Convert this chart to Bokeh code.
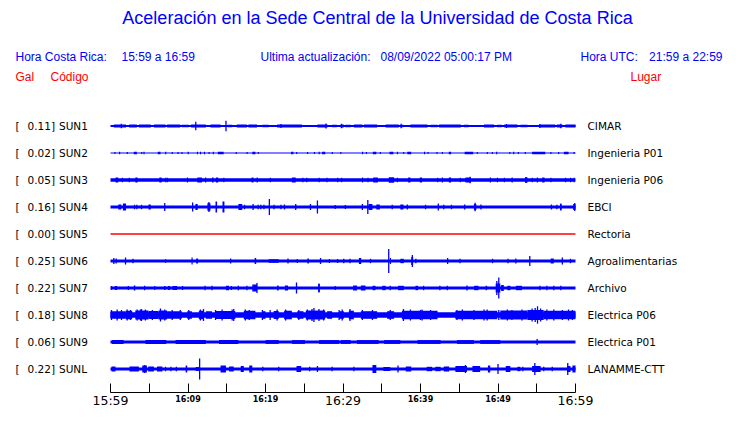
from bokeh.plotting import figure
from bokeh.models import Range1d, LinearAxis, FixedTicker, ColumnDataSource
from bokeh.core.properties import value
from bokeh.embed import file_html
from bokeh.resources import INLINE

# ------------------------------------------------------------------ data
title_text = "Aceleración en la Sede Central de la Universidad de Costa Rica"
hdr_cr_label, hdr_cr_value = "Hora Costa Rica:", "15:59 a 16:59"
hdr_upd_label, hdr_upd_value = "Ultima actualización:", "08/09/2022 05:00:17 PM"
hdr_utc_label, hdr_utc_value = "Hora UTC:", "21:59 a 22:59"
col_gal, col_code, col_place = "Gal", "Código", "Lugar"

codes = ["SUN1", "SUN2", "SUN3", "SUN4", "SUN5", "SUN6", "SUN7", "SUN8", "SUN9", "SUNL"]
gal_max = [0.11, 0.02, 0.05, 0.16, 0.00, 0.25, 0.22, 0.18, 0.06, 0.22]
places = ["CIMAR", "Ingenieria P01", "Ingenieria P06", "EBCI", "Rectoria",
          "Agroalimentarias", "Archivo", "Electrica P06", "Electrica P01", "LANAMME-CTT"]

# minutes after 15:59
tick_minutes = [0, 5, 10, 15, 20, 25, 30, 35, 40, 45, 50, 55, 60]
tick_labels = ["15:59", "", "16:09", "", "16:19", "", "16:29", "", "16:39", "", "16:49", "", "16:59"]
tick_big = ["15:59", "16:29", "16:59"]

# background (noise) half-amplitude of each trace, relative units
base_amp = [0.9, 0.5, 1.7, 1.5, 0.0, 1.5, 1.5, 2.7, 1.6, 1.5]

# bursts: (start minute, end minute, half-amplitude); spikes: (minute, half-amplitude)
sun1_bursts = [(0.43, 2.0, 1.4), (2.4, 3.4, 1.4), (3.66, 5.2, 1.4), (5.6, 7.1, 1.4), (7.3, 9.0, 1.4),
               (9.2, 10.1, 1.3), (10.4, 12.3, 1.5), (12.9, 14.2, 1.4), (15.1, 15.7, 1.3), (16.3, 17.6, 1.4),
               (17.8, 18.9, 1.4), (19.6, 20.4, 1.3), (21.5, 24.7, 1.5), (26.7, 28.0, 1.5), (28.6, 29.2, 1.3),
               (29.7, 30.1, 1.4), (30.3, 31.0, 1.3), (31.4, 32.5, 1.4), (32.7, 34.4, 1.4), (35.5, 37.2, 1.4),
               (37.4, 37.8, 1.3), (38.7, 40.9, 1.4), (41.3, 42.2, 1.3), (42.4, 45.2, 1.4), (45.6, 46.2, 1.3),
               (48.2, 49.5, 1.4), (49.9, 50.5, 1.3), (50.8, 52.5, 1.4), (52.9, 53.8, 1.3), (55.3, 57.4, 1.5),
               (57.6, 58.3, 1.4), (58.7, 60.0, 1.5)]
sun1_spikes = [(1.4, 2.2), (11.0, 4.2), (14.9, 5.3), (22.0, 2.0), (27.8, 2.5), (29.8, 2.3), (37.5, 2.3),
               (51.1, 2.0), (55.4, 2.0), (58.1, 2.3)]

sun2_bursts = [(0.5, 0.65, 1.0), (1.1, 1.25, 1.2), (2.1, 2.25, 1.0), (3.0, 3.4, 1.3), (3.95, 4.1, 1.0),
               (4.25, 4.4, 1.2), (6.1, 6.45, 1.2), (7.05, 7.2, 1.2), (7.9, 8.05, 1.0), (8.65, 8.8, 1.0),
               (9.15, 9.3, 1.0), (9.95, 10.1, 1.2), (11.15, 11.3, 1.2), (11.55, 11.7, 1.2), (12.05, 12.2, 1.2),
               (12.65, 12.8, 1.0), (13.2, 13.35, 1.2), (13.85, 14.6, 1.3), (16.15, 16.3, 1.0), (17.55, 17.7, 1.0),
               (18.3, 18.7, 1.3), (19.0, 19.15, 1.0), (23.3, 23.6, 1.3), (23.95, 24.1, 1.0), (25.35, 25.5, 1.0),
               (26.25, 26.4, 1.0), (26.85, 27.0, 1.2), (27.3, 27.7, 1.2), (28.55, 28.7, 1.0), (29.65, 29.8, 1.0),
               (32.45, 32.6, 1.2), (32.95, 33.1, 1.0), (33.85, 34.3, 1.3), (34.75, 34.9, 1.0), (36.0, 36.5, 1.2),
               (36.95, 37.1, 1.2), (37.75, 37.9, 1.0), (38.3, 38.8, 1.2), (40.45, 40.6, 1.2), (40.9, 41.05, 1.0),
               (42.05, 42.2, 1.0), (42.75, 42.9, 1.0), (43.65, 43.95, 1.2), (45.7, 46.8, 1.3), (47.25, 47.4, 1.0),
               (48.55, 48.7, 1.0), (49.2, 49.35, 1.0), (49.75, 49.9, 1.2), (51.45, 51.6, 1.0), (51.95, 52.1, 1.2),
               (52.55, 52.7, 1.0), (53.45, 53.6, 1.0), (54.4, 56.1, 1.3), (56.75, 56.9, 1.0), (57.75, 57.9, 1.0),
               (58.5, 59.1, 1.2), (59.75, 59.9, 1.0)]
sun2_spikes = []

sun3_bursts = [(0.65, 1.0, 2.6), (1.45, 1.6, 2.2), (2.35, 2.5, 2.2), (3.2, 3.5, 2.6), (6.3, 6.6, 2.6),
               (7.05, 7.2, 2.2), (7.25, 7.4, 2.2), (9.85, 10.0, 2.4), (11.2, 11.8, 2.6), (12.2, 12.35, 2.4),
               (13.1, 13.3, 2.4), (13.6, 13.9, 2.6), (14.55, 14.7, 2.2), (18.2, 18.45, 2.6), (18.85, 19.0, 2.4),
               (20.55, 20.7, 2.2), (23.4, 23.9, 2.4), (24.75, 24.9, 2.2), (25.25, 25.4, 2.2), (26.85, 27.0, 2.2),
               (27.85, 28.0, 2.2), (29.25, 29.4, 2.2), (29.75, 29.9, 2.2), (32.45, 32.6, 2.4), (33.15, 33.3, 2.2),
               (33.9, 34.5, 2.6), (35.9, 36.6, 2.8), (36.95, 37.1, 2.2), (38.4, 38.7, 2.4), (39.9, 40.2, 2.4),
               (42.15, 42.3, 2.2), (42.75, 42.9, 2.4), (43.65, 43.95, 2.4), (45.05, 45.2, 2.2), (45.8, 46.5, 2.4),
               (48.95, 49.1, 2.4), (49.85, 50.0, 2.2), (50.75, 50.9, 2.2), (51.75, 51.9, 2.4), (53.5, 53.8, 2.8),
               (54.35, 54.5, 2.2), (55.0, 55.15, 2.4), (55.7, 56.0, 2.6), (56.75, 56.9, 2.2), (58.65, 58.8, 2.2),
               (59.3, 59.45, 2.2), (59.75, 59.9, 2.2)]
sun3_spikes = [(46.4, 3.2), (53.6, 3.0)]

sun4_bursts = [(1.0, 1.4, 2.5), (1.6, 2.0, 3.5), (4.9, 5.2, 2.5), (10.95, 11.25, 3.0), (12.5, 12.9, 3.8),
               (13.55, 13.75, 5.5), (14.45, 14.7, 5.5), (16.5, 17.0, 3.0), (33.3, 33.8, 3.0), (34.3, 34.75, 2.5),
               (37.4, 37.8, 2.5), (46.9, 47.2, 3.0), (58.0, 58.2, 3.0), (59.7, 60.0, 3.0)]
sun4_spikes = [(3.1, 2.2), (3.4, 2.2), (4.0, 2.2), (7.0, 4.0), (10.6, 4.5), (12.7, 5.0), (17.3, 2.2),
               (18.4, 3.0), (19.05, 2.2), (19.4, 2.2), (19.8, 2.2), (20.5, 8.0), (21.1, 2.2), (22.0, 2.2),
               (22.45, 2.5), (23.9, 3.0), (25.8, 3.0), (26.7, 6.5), (29.0, 2.0), (30.3, 2.0), (32.5, 3.0),
               (33.2, 7.0), (36.35, 2.2), (38.3, 2.5), (40.65, 2.2), (42.3, 3.5), (43.0, 2.2), (44.0, 2.2),
               (45.7, 2.5), (47.05, 4.2), (47.8, 2.5), (56.9, 2.5), (57.6, 2.2), (58.1, 3.5), (59.9, 4.0)]

sun5_bursts = []
sun5_spikes = []

sun6_bursts = [(10.45, 10.6, 3.5), (11.05, 11.3, 2.5), (18.6, 18.8, 3.0), (20.4, 21.7, 1.8), (25.4, 25.6, 2.5),
               (32.05, 32.35, 3.0), (36.05, 36.2, 3.0), (37.4, 37.85, 2.2), (38.8, 39.05, 4.0), (56.8, 57.2, 2.5)]
sun6_spikes = [(0.43, 3.0), (0.73, 2.5), (1.94, 3.5), (2.9, 2.2), (7.1, 1.8), (15.5, 2.5), (22.9, 2.5),
               (24.1, 2.0), (27.1, 3.0), (28.25, 2.0), (29.3, 2.0), (30.1, 2.2), (30.9, 2.2), (33.55, 2.2),
               (35.9, 12.0), (38.95, 6.0), (39.4, 2.2), (43.5, 3.0), (45.1, 2.2), (49.3, 2.2), (51.3, 2.2),
               (52.3, 2.5), (54.1, 5.0), (58.3, 3.5), (59.35, 2.2)]

sun7_bursts = [(0.56, 0.86, 2.0), (3.0, 3.2, 2.5), (6.9, 7.1, 2.0), (7.4, 7.7, 2.0), (8.0, 8.6, 2.0),
               (14.9, 15.3, 2.2), (18.3, 18.9, 3.5), (21.5, 21.7, 2.5), (22.5, 22.9, 2.5), (26.8, 27.0, 4.0),
               (31.3, 31.8, 2.5), (32.3, 32.9, 2.5), (33.8, 34.2, 2.2), (35.05, 35.5, 2.2), (37.1, 37.85, 2.2),
               (39.35, 39.7, 2.2), (46.9, 47.5, 2.2), (48.4, 48.6, 2.2), (49.7, 50.3, 4.5), (50.4, 50.75, 3.0),
               (51.2, 51.6, 2.2), (52.3, 53.1, 2.2)]
sun7_spikes = [(0.13, 2.0), (2.3, 2.0), (4.4, 2.2), (5.7, 2.0), (9.3, 2.0), (12.2, 2.2), (13.1, 2.2),
               (15.6, 2.0), (16.5, 2.2), (17.6, 2.2), (18.9, 5.0), (24.0, 5.5), (26.9, 4.5), (29.0, 2.0),
               (36.1, 2.2), (40.4, 2.2), (42.5, 2.2), (43.45, 2.2), (46.0, 2.5), (49.85, 7.0), (50.1, 10.5),
               (55.4, 2.2), (56.3, 2.2), (57.2, 2.2), (58.1, 2.2)]

sun8_bursts = [(0.0, 1.94, 3.8), (1.94, 2.8, 4.3), (3.2, 4.9, 4.5), (4.9, 6.2, 4.0), (6.2, 7.3, 4.5),
               (7.3, 9.2, 3.8), (9.9, 10.5, 3.8), (11.4, 12.0, 4.3), (12.3, 13.1, 3.8), (13.55, 16.1, 4.0),
               (17.2, 18.7, 4.3), (19.6, 20.0, 3.8), (21.05, 21.7, 4.0), (22.4, 23.4, 4.3), (24.1, 24.9, 3.8),
               (25.2, 27.7, 4.5), (27.95, 28.6, 3.8), (29.5, 30.1, 3.8), (30.75, 31.4, 4.3), (32.3, 34.4, 3.8),
               (35.7, 36.6, 3.8), (37.6, 42.2, 4.2), (44.5, 49.9, 4.2), (50.3, 53.8, 4.5), (53.8, 55.9, 5.0),
               (55.9, 60.0, 4.3)]
sun8_spikes = [(0.13, 5.0), (0.86, 5.5), (1.42, 5.0), (2.15, 5.5), (2.58, 5.0), (3.44, 5.5), (3.87, 5.5),
               (4.0, 6.0), (4.5, 5.5), (5.4, 5.0), (6.45, 6.5), (7.0, 5.5), (7.96, 5.0), (9.0, 5.0),
               (10.1, 5.0), (11.6, 5.5), (12.0, 6.0), (13.55, 5.0), (14.4, 5.5), (15.7, 5.5), (15.9, 6.0),
               (17.4, 5.5), (17.9, 5.0), (19.6, 5.0), (20.6, 5.0), (21.5, 5.5), (22.6, 5.5), (24.3, 5.0),
               (25.4, 5.5), (26.0, 6.0), (26.25, 7.0), (26.9, 6.0), (27.5, 5.5), (29.5, 5.0), (29.9, 5.5),
               (30.9, 6.0), (32.5, 5.0), (33.8, 5.0), (36.1, 5.0), (37.8, 6.0), (38.7, 5.5), (40.0, 5.0),
               (40.2, 5.5), (41.3, 5.0), (44.7, 5.0), (45.4, 5.5), (46.9, 5.0), (48.2, 5.5), (48.6, 5.5),
               (50.1, 5.0), (51.2, 5.5), (51.8, 5.0), (53.1, 5.5), (54.4, 6.5), (54.8, 7.0), (55.1, 8.7),
               (55.5, 6.5), (56.3, 5.5), (57.2, 5.5), (58.3, 5.0), (59.1, 5.5), (59.6, 5.0)]

sun9_bursts = [(0.2, 1.7, 1.9), (4.5, 7.2, 1.9), (8.4, 12.3, 1.9), (14.0, 16.5, 1.9), (20.0, 21.7, 1.9),
               (23.4, 25.1, 1.9), (26.9, 29.5, 1.9), (29.7, 31.0, 1.9), (31.8, 34.6, 1.9), (35.3, 37.4, 1.9),
               (39.6, 42.6, 1.9), (44.7, 46.9, 1.9), (47.7, 50.3, 1.9)]
sun9_spikes = [(55.05, 3.0)]

sunl_bursts = [(0.13, 0.65, 2.5), (2.45, 3.66, 2.5), (4.1, 4.7, 3.5), (4.86, 5.6, 2.5), (6.0, 6.7, 2.5),
               (9.7, 9.9, 3.5), (11.0, 11.4, 2.0), (14.2, 14.9, 3.5), (15.3, 15.9, 2.5), (16.8, 17.2, 3.0),
               (17.9, 18.3, 3.5), (24.0, 24.6, 3.0), (33.8, 34.3, 4.0), (35.2, 36.1, 2.0), (38.1, 38.8, 2.5),
               (40.8, 41.5, 2.2), (41.9, 42.6, 2.2), (43.0, 43.7, 2.5), (44.5, 46.0, 3.0), (46.7, 47.7, 3.0),
               (48.7, 49.0, 3.5), (51.0, 51.6, 3.0), (52.5, 52.9, 2.2), (54.4, 55.5, 3.0), (58.9, 59.35, 3.0),
               (59.6, 60.0, 3.5)]
sunl_spikes = [(4.4, 4.0), (7.1, 2.2), (7.8, 2.2), (8.5, 2.2), (11.5, 10.5), (19.65, 2.2), (21.7, 2.2),
               (25.7, 2.2), (26.7, 3.0), (28.6, 2.2), (31.4, 2.2), (34.0, 4.0), (37.1, 3.5), (45.8, 4.0),
               (50.0, 5.0), (53.2, 2.2), (54.75, 6.0), (55.9, 2.2), (57.0, 2.2), (59.0, 6.0)]

all_bursts = [sun1_bursts, sun2_bursts, sun3_bursts, sun4_bursts, sun5_bursts,
              sun6_bursts, sun7_bursts, sun8_bursts, sun9_bursts, sunl_bursts]
all_spikes = [sun1_spikes, sun2_spikes, sun3_spikes, sun4_spikes, sun5_spikes,
              sun6_spikes, sun7_spikes, sun8_spikes, sun9_spikes, sunl_spikes]

# ------------------------------------------------------------------ layout / style
W, H = 724, 407
X0 = 110.0          # canvas px of minute 0
PPM = 7.75          # px per minute
DY = 5              # vertical shift so that the whole fits the window
ROW0, ROWSTEP = 130.5 - DY, 27.0
AXIS_Y = 391.5
SPIKE_W = 1.3 / PPM
BLUE, RED = "#0000ff", "#ff0000"


def mx(px):
    return (px - X0) / PPM


def cy(py):
    return py - DY


p = figure(width=W, height=H, x_range=Range1d(mx(0), mx(W)), y_range=Range1d(H, 0),
           output_backend="svg", toolbar_location=None, min_border=0,
           x_axis_type=None, y_axis_type=None)
p.outline_line_color = None
p.background_fill_color = "white"
p.border_fill_color = "white"

# traces
q = dict(left=[], right=[], top=[], bottom=[], color=[])
for i, code in enumerate(codes):
    c = ROW0 + i * ROWSTEP
    col = RED if gal_max[i] == 0 else BLUE
    if base_amp[i] > 0:
        q["left"].append(tick_minutes[0]); q["right"].append(tick_minutes[-1])
        q["top"].append(c - base_amp[i]); q["bottom"].append(c + base_amp[i]); q["color"].append(col)
    else:
        p.line(x=[tick_minutes[0], tick_minutes[-1]], y=[c, c], line_color=col, line_width=1.3)
    for (t0, t1, a) in all_bursts[i]:
        q["left"].append(t0); q["right"].append(t1)
        q["top"].append(c - a); q["bottom"].append(c + a); q["color"].append(col)
    for (t, a) in all_spikes[i]:
        q["left"].append(t - SPIKE_W / 2); q["right"].append(t + SPIKE_W / 2)
        q["top"].append(c - a); q["bottom"].append(c + a); q["color"].append(col)
p.quad(left="left", right="right", top="top", bottom="bottom", color="color",
       source=ColumnDataSource(q), line_color=None)

# row labels
rows_y = [ROW0 + i * ROWSTEP - 0.5 for i in range(len(codes))]
lab_font = value("DejaVu Sans")
p.text(x=[mx(15)] * len(codes), y=rows_y, text=["["] * len(codes), text_font=lab_font,
       text_font_size="10.5px", text_baseline="middle", text_align="left", text_color="black")
p.text(x=[mx(54.5)] * len(codes), y=rows_y, text=[f"{g:.2f}]" for g in gal_max], text_font=lab_font,
       text_font_size="10.5px", text_baseline="middle", text_align="right", text_color="black")
p.text(x=[mx(58.5)] * len(codes), y=rows_y, text=codes, text_font=lab_font,
       text_font_size="10.5px", text_baseline="middle", text_align="left", text_color="black")
p.text(x=[mx(587)] * len(codes), y=rows_y, text=places, text_font=lab_font,
       text_font_size="10.5px", text_baseline="middle", text_align="left", text_color="black")

# title and header
hfont = value("Liberation Sans")
p.text(x=[mx(377)], y=[cy(22)], text=[title_text], text_font=hfont, text_font_size="18px",
       text_baseline="middle", text_align="center", text_color=BLUE)
hx = [15, 121, 260, 380, 580]
ht = [hdr_cr_label, hdr_cr_value, hdr_upd_label, hdr_upd_value, hdr_utc_label]
p.text(x=[mx(v) for v in hx], y=[cy(61)] * len(hx), text=ht, text_font=hfont, text_font_size="12px",
       text_baseline="middle", text_align="left", text_color=BLUE)
p.text(x=[mx(722)], y=[cy(61)], text=[hdr_utc_value], text_font=hfont, text_font_size="12px",
       text_baseline="middle", text_align="right", text_color=BLUE)
rx = [15, 50, 630]
rt = [col_gal, col_code, col_place]
p.text(x=[mx(v) for v in rx], y=[cy(81)] * len(rx), text=rt, text_font=hfont, text_font_size="12px",
       text_baseline="middle", text_align="left", text_color=RED)

# time axis (drawn inside the frame at a fixed location)
ax = LinearAxis(ticker=FixedTicker(ticks=tick_minutes), bounds=(tick_minutes[0], tick_minutes[-1]),
                fixed_location=AXIS_Y, major_tick_in=9, major_tick_out=0, minor_tick_line_color=None,
                major_label_overrides={t: "" for t in tick_minutes}, major_label_standoff=0,
                axis_line_color="black", major_tick_line_color="black")
p.add_layout(ax, "below")

big_t = [t for t, l in zip(tick_minutes, tick_labels) if l in tick_big]
big_l = [l for l in tick_labels if l in tick_big]
small_t = [t for t, l in zip(tick_minutes, tick_labels) if l and l not in tick_big]
small_l = [l for l in tick_labels if l and l not in tick_big]
p.text(x=big_t, y=[AXIS_Y + 0.5] * len(big_t), text=big_l, text_font=lab_font, text_font_size="12.5px",
       text_align="center", text_baseline="top", text_color="black")
p.text(x=small_t, y=[AXIS_Y + 2.5] * len(small_t), text=small_l, text_font=lab_font, text_font_size="8px",
       text_font_style="bold", text_align="center", text_baseline="top", text_color="black")

open("out.html", "w").write(file_html(p, INLINE))
